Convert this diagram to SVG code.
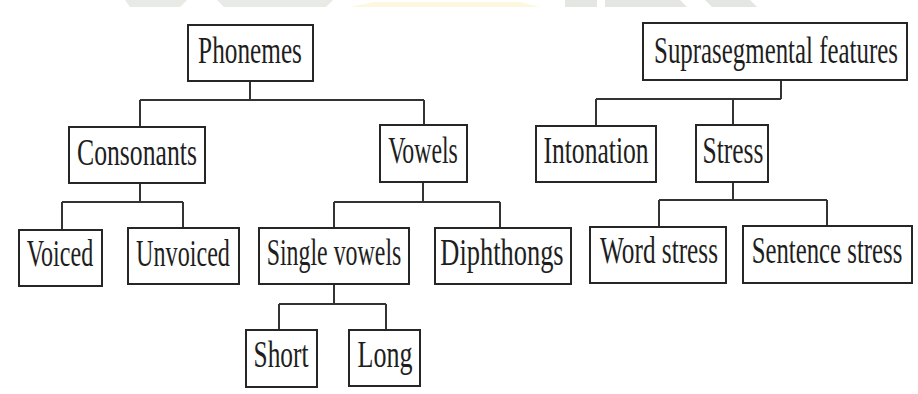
<svg xmlns="http://www.w3.org/2000/svg" width="918" height="394" viewBox="0 0 918 394">
<style>
.box{fill:#fff;stroke:#262626;stroke-width:2}
.lbl{font-family:"Liberation Serif","Times New Roman",serif;font-size:38px;fill:#1e1e1e;text-anchor:middle}
.con{fill:none;stroke:#333;stroke-width:2}
.wm{stroke:none}
</style>
<rect width="918" height="394" fill="#fff"/>
<g id="watermark" opacity="0.9">
<polygon class="wm" points="125,0 187,0 180,7 130,7" fill="#e6e8e4"/>
<polygon class="wm" points="217,0 333,0 326,7 224,7" fill="#e6e8e4"/>
<polygon class="wm" points="350,7 375,2 520,2 540,7" fill="#fbf8dc"/>
<rect class="wm" x="565" y="0" width="32" height="7" fill="#e2e4df"/>
<polygon class="wm" points="605,0 680,0 687,7 605,7" fill="#e2e4df"/>
<polygon class="wm" points="705,0 750,0 757,7 712,7" fill="#e2e4df"/>
</g>
<g id="connectors">
<path class="con" d="M250,81 V100 M140,100 H424 M140,100 V127 M424,100 V125"/>
<path class="con" d="M140,183 V202 M62,202 H183 M62,202 V230 M183,202 V228"/>
<path class="con" d="M423,182 V202 M334,202 H500 M334,202 V228 M500,202 V228"/>
<path class="con" d="M334,284 V304 M279,304 H386 M279,304 V330 M386,304 V330"/>
<path class="con" d="M781,80 V99 M596,99 H781 M596,99 V126 M733,99 V125"/>
<path class="con" d="M733,182 V200 M659,200 H827 M659,200 V227 M827,200 V226"/>
</g>
<g id="phonemes"><rect class="box" x="188" y="25" width="125" height="56"/><text class="lbl" transform="translate(250,63) scale(0.67,1)" textLength="155" lengthAdjust="spacingAndGlyphs">Phonemes</text></g>
<g id="consonants"><rect class="box" x="69" y="127" width="136" height="56"/><text class="lbl" transform="translate(137,165) scale(0.67,1)" textLength="179" lengthAdjust="spacingAndGlyphs">Consonants</text></g>
<g id="vowels"><rect class="box" x="380" y="125" width="87" height="57"/><text class="lbl" transform="translate(423,163) scale(0.67,1)" textLength="104" lengthAdjust="spacingAndGlyphs">Vowels</text></g>
<g id="voiced"><rect class="box" x="19" y="230" width="83" height="56"/><text class="lbl" transform="translate(60,266) scale(0.67,1)" textLength="99" lengthAdjust="spacingAndGlyphs">Voiced</text></g>
<g id="unvoiced"><rect class="box" x="128" y="228" width="111" height="56"/><text class="lbl" transform="translate(183,266) scale(0.67,1)" textLength="140" lengthAdjust="spacingAndGlyphs">Unvoiced</text></g>
<g id="single-vowels"><rect class="box" x="259" y="228" width="150" height="56"/><text class="lbl" transform="translate(334,265) scale(0.67,1)" textLength="201" lengthAdjust="spacingAndGlyphs">Single vowels</text></g>
<g id="diphthongs"><rect class="box" x="435" y="228" width="136" height="56"/><text class="lbl" transform="translate(502,265) scale(0.67,1)" textLength="184" lengthAdjust="spacingAndGlyphs">Diphthongs</text></g>
<g id="short"><rect class="box" x="246" y="330" width="71" height="57"/><text class="lbl" transform="translate(281,367) scale(0.67,1)" textLength="82" lengthAdjust="spacingAndGlyphs">Short</text></g>
<g id="long"><rect class="box" x="349" y="330" width="71" height="56"/><text class="lbl" transform="translate(385,367) scale(0.67,1)" textLength="82" lengthAdjust="spacingAndGlyphs">Long</text></g>
<g id="suprasegmental"><rect class="box" x="643" y="23" width="264" height="57"/><text class="lbl" transform="translate(776,63) scale(0.67,1)" textLength="364" lengthAdjust="spacingAndGlyphs">Suprasegmental features</text></g>
<g id="intonation"><rect class="box" x="536" y="126" width="120" height="56"/><text class="lbl" transform="translate(596,163) scale(0.67,1)" textLength="157" lengthAdjust="spacingAndGlyphs">Intonation</text></g>
<g id="stress"><rect class="box" x="696" y="125" width="72" height="57"/><text class="lbl" transform="translate(733,163) scale(0.67,1)" textLength="91" lengthAdjust="spacingAndGlyphs">Stress</text></g>
<g id="word-stress"><rect class="box" x="590" y="227" width="136" height="56"/><text class="lbl" transform="translate(659,263) scale(0.67,1)" textLength="176" lengthAdjust="spacingAndGlyphs">Word stress</text></g>
<g id="sentence-stress"><rect class="box" x="743" y="226" width="169" height="57"/><text class="lbl" transform="translate(827,263) scale(0.67,1)" textLength="225" lengthAdjust="spacingAndGlyphs">Sentence stress</text></g>
</svg>
